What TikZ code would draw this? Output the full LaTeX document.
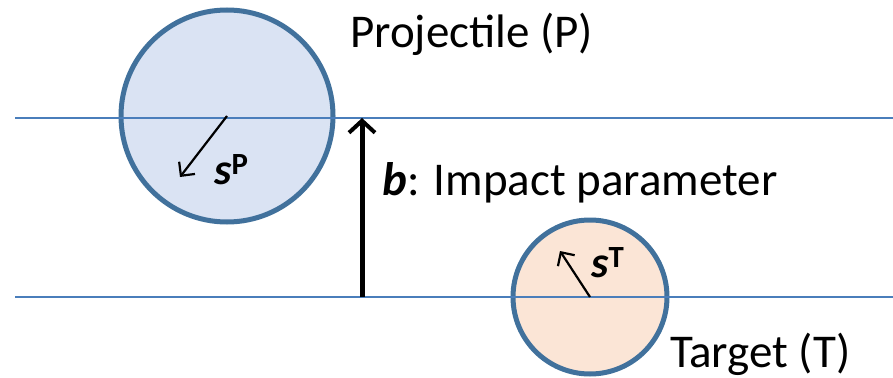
\documentclass[tikz,border=0pt]{standalone}
\usepackage{fontspec}
\setmainfont{Carlito}
\usepackage{tikz}
\usetikzlibrary{positioning,calc,arrows.meta}
\definecolor{rim}{HTML}{41719C}
\definecolor{lineblue}{HTML}{4A7EBB}
\definecolor{projfill}{HTML}{DAE3F3}
\definecolor{targfill}{HTML}{FBE5D6}

\begin{document}
\begin{tikzpicture}[x=1pt,y=-1pt,
    ball/.style={circle,draw=rim,line width=5pt,inner sep=0pt},
    spin/.style={line width=2.2pt,-{Straight Barb[length=10pt,width=20pt,line width=2.2pt]}},
    lbl/.style={font=\fontsize{47}{56}\selectfont,inner sep=0pt,anchor=base west},
    slbl/.style={font=\fontsize{44}{52}\selectfont,inner sep=0pt,anchor=base west}]

\useasboundingbox (0,0) rectangle (893,377);

% the two reference lines
\coordinate (topL) at (15,118);
\coordinate (topR) at (893,118);
\coordinate (botL) at (15,297);
\coordinate (botR) at (893,297);

\node[ball,fill=projfill,minimum size=212pt] (proj) at (227,116) {};
\node[ball,fill=targfill,minimum size=154pt] (targ) at (590,297) {};

\draw[lineblue,line width=1.5pt] (topL) -- (topR);
\draw[lineblue,line width=1.5pt] (botL) -- (botR);

% spins
\coordinate (sPend) at (180,177);
\coordinate (sTend) at (560,251);
\draw[spin] (proj.center) -- (sPend);
\draw[spin] (targ.center) -- (sTend);
\node[slbl] (sP) at (214,184) {\textbf{\textit{s}}\textsuperscript{\textbf{P}}};
\node[slbl] (sT) at (591,277) {\textbf{\textit{s}}\textsuperscript{\textbf{T}}};

% impact parameter
\coordinate (bBot) at (362,297);
\coordinate (bTop) at (362,118);
\draw[line width=5pt,-{Straight Barb[length=12pt,width=26pt,line width=4pt]}] (bBot) -- (bTop);
\node[lbl] (bTxt) at (382,195) {\textbf{\textit{b}}: Impact parameter};

\node[lbl] (projTxt) at (350,48) {Projectile (P)};
\node[lbl] (targTxt) at (670,367) {Target (T)};

\end{tikzpicture}
\end{document}
